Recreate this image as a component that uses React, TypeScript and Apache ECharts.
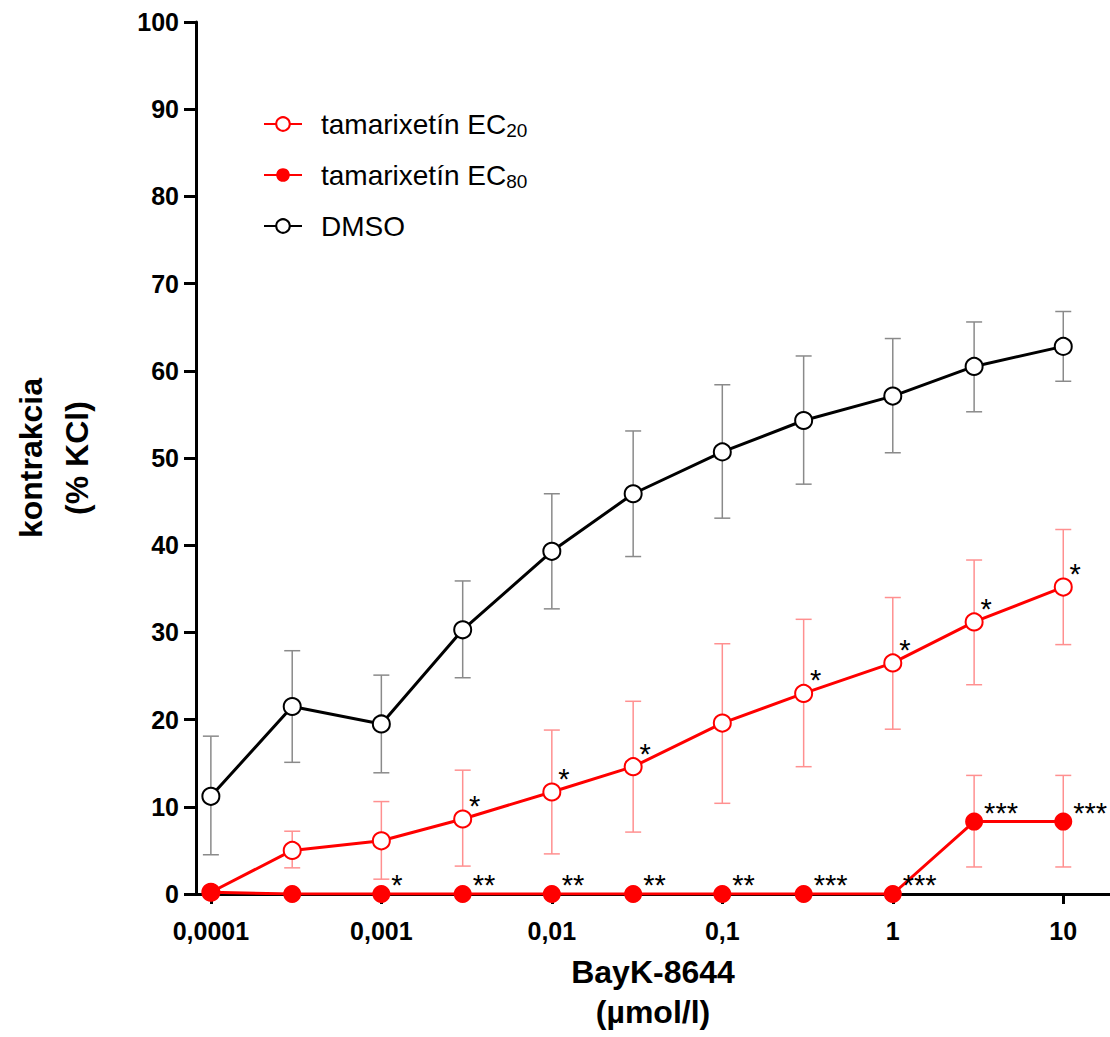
import React, { useEffect, useRef } from "react";
import * as echarts from "echarts";

const concentrations = [0.0001, 0.0003, 0.001, 0.003, 0.01, 0.03, 0.1, 0.3, 1, 3, 10];
const xTickValues = [0.0001, 0.001, 0.01, 0.1, 1, 10];

const dmsoMean = [11.2, 21.5, 19.5, 30.3, 39.3, 45.9, 50.7, 54.3, 57.1, 60.5, 62.8];
const dmsoUpper = [18.1, 27.9, 25.1, 35.9, 45.9, 53.1, 58.4, 61.7, 63.7, 65.6, 66.8];
const dmsoLower = [4.5, 15.1, 13.9, 24.8, 32.7, 38.7, 43.1, 47.0, 50.6, 55.3, 58.8];

const ec20Mean = [0.2, 5.0, 6.1, 8.6, 11.7, 14.6, 19.6, 23.0, 26.5, 31.2, 35.2];
const ec20Upper = [null, 7.2, 10.6, 14.2, 18.8, 22.1, 28.7, 31.5, 34.0, 38.3, 41.8];
const ec20Lower = [null, 3.0, 1.7, 3.2, 4.6, 7.1, 10.4, 14.6, 18.9, 24.0, 28.6];
const ec20Stars = ["", "", "", "*", "*", "*", "", "*", "*", "*", "*"];

const ec80Mean = [0.2, 0, 0, 0, 0, 0, 0, 0, 0, 8.3, 8.3];
const ec80Upper = [null, null, null, null, null, null, null, null, null, 13.6, 13.6];
const ec80Lower = [null, null, null, null, null, null, null, null, null, 3.1, 3.1];
const ec80Stars = ["", "", "*", "**", "**", "**", "**", "***", "***", "***", "***"];

const NAME_EC20 = "tamarixetín EC20";
const NAME_EC80 = "tamarixetín EC80";
const NAME_DMSO = "DMSO";

const FONT = "'Liberation Sans', Arial, Helvetica, sans-serif";
const RED = "#ff0000";

function errorData(upper: (number | null)[], lower: (number | null)[]) {
  const out: number[][] = [];
  concentrations.forEach((c, i) => {
    const u = upper[i];
    const l = lower[i];
    if (u != null && l != null) out.push([c, l, u]);
  });
  return out;
}

function errorSeries(name: string, upper: (number | null)[], lower: (number | null)[], color: string) {
  return {
    type: "custom",
    name,
    z: 1,
    silent: true,
    encode: { x: 0, y: [1, 2] },
    data: errorData(upper, lower),
    renderItem: (params: any, api: any) => {
      const x = api.value(0);
      const lo = api.coord([x, api.value(1)]);
      const hi = api.coord([x, api.value(2)]);
      const w = 8;
      const style = { stroke: color, lineWidth: 1.5 };
      return {
        type: "group",
        children: [
          { type: "line", shape: { x1: hi[0], y1: hi[1], x2: lo[0], y2: lo[1] }, style },
          { type: "line", shape: { x1: hi[0] - w, y1: hi[1], x2: hi[0] + w, y2: hi[1] }, style },
          { type: "line", shape: { x1: lo[0] - w, y1: lo[1], x2: lo[0] + w, y2: lo[1] }, style },
        ],
      };
    },
  };
}

function lineData(means: number[], stars: string[] | null, kind: "ec20" | "ec80" | "none") {
  return concentrations.map((c, i) => {
    const item: any = { value: [c, means[i]] };
    const s = stars ? stars[i] : "";
    if (s) {
      item.label = {
        show: true,
        formatter: s,
        position: "inside",
        align: kind === "ec20" ? "center" : "left",
        verticalAlign: "middle",
        offset: kind === "ec20" ? [12, -13] : [10, -9],
        color: "#000",
        fontSize: 29,
        fontFamily: FONT,
      };
    }
    return item;
  });
}

function formatConc(v: number) {
  const s = v >= 1 ? String(Math.round(v)) : Number(v.toPrecision(3)).toString();
  return s.replace(".", ",");
}

export default function App() {
  const ref = useRef<HTMLDivElement>(null);

  useEffect(() => {
    if (!ref.current) return;
    const chart = echarts.init(ref.current, null, { renderer: "svg" });
    const option: any = {
      animation: false,
      backgroundColor: "#ffffff",
      grid: { left: 190, right: 0, top: 22, bottom: 136, containLabel: false },
      legend: {
        orient: "vertical",
        left: 258,
        top: 105,
        itemWidth: 38,
        itemHeight: 17,
        itemGap: 21,
        data: [NAME_EC20, NAME_EC80, NAME_DMSO],
        textStyle: {
          fontFamily: FONT,
          fontSize: 28,
          color: "#000",
          padding: [0, 0, 0, 14],
          rich: {
            a: { fontFamily: FONT, fontSize: 28, color: "#000", lineHeight: 32 },
            s: { fontFamily: FONT, fontSize: 19, color: "#000", lineHeight: 14, verticalAlign: "bottom" },
          },
        },
        formatter: (name: string) => {
          if (name === NAME_DMSO) return "{a|DMSO}";
          const sub = name === NAME_EC20 ? "20" : "80";
          return "{a|tamarixetín EC}{s|" + sub + "}";
        },
      },
      xAxis: {
        type: "log",
        logBase: 10,
        min: 0.0000818,
        max: 18.8,
        name: "BayK-8644\n(µmol/l)",
        nameLocation: "middle",
        nameGap: 58,
        nameTextStyle: {
          fontFamily: FONT,
          fontSize: 32,
          fontWeight: "bold",
          color: "#000",
          lineHeight: 40,
        },
        axisLine: { show: true, lineStyle: { color: "#000", width: 3 } },
        axisTick: {
          show: true,
          length: 10,
          lineStyle: { color: "#000", width: 3 },
          customValues: xTickValues,
        },
        minorTick: { show: false },
        axisLabel: {
          customValues: xTickValues,
          formatter: (v: number) => formatConc(v),
          fontFamily: FONT,
          fontSize: 25,
          fontWeight: "bold",
          color: "#000",
          margin: 24,
        },
        splitLine: { show: false },
      },
      yAxis: {
        type: "value",
        min: 0,
        max: 100,
        interval: 10,
        name: "kontrakcia\n(% KCl)",
        nameLocation: "middle",
        nameGap: 96,
        nameRotate: 90,
        nameTextStyle: {
          fontFamily: FONT,
          fontSize: 32,
          fontWeight: "bold",
          color: "#000",
          lineHeight: 46,
        },
        axisLine: { show: true, lineStyle: { color: "#000", width: 3 } },
        axisTick: { show: true, length: 12, lineStyle: { color: "#000", width: 3 } },
        axisLabel: {
          fontFamily: FONT,
          fontSize: 25,
          fontWeight: "bold",
          color: "#000",
          margin: 17,
        },
        splitLine: { show: false },
      },
      series: [
        errorSeries("dmsoErr", dmsoUpper, dmsoLower, "#8a8a8a"),
        errorSeries("ec20Err", ec20Upper, ec20Lower, "#ff9090"),
        errorSeries("ec80Err", ec80Upper, ec80Lower, "#ff9090"),
        {
          type: "line",
          name: NAME_DMSO,
          z: 3,
          data: lineData(dmsoMean, null, "none"),
          symbol: "emptyCircle",
          symbolSize: 17,
          showAllSymbol: true,
          lineStyle: { color: "#000", width: 3 },
          itemStyle: { color: "#000", borderColor: "#000", borderWidth: 3 },
        },
        {
          type: "line",
          name: NAME_EC20,
          z: 4,
          data: lineData(ec20Mean, ec20Stars, "ec20"),
          symbol: "emptyCircle",
          symbolSize: 17,
          showAllSymbol: true,
          lineStyle: { color: RED, width: 3 },
          itemStyle: { color: RED, borderColor: RED, borderWidth: 3 },
        },
        {
          type: "line",
          name: NAME_EC80,
          z: 5,
          data: lineData(ec80Mean, ec80Stars, "ec80"),
          symbol: "circle",
          symbolSize: 18,
          showAllSymbol: true,
          lineStyle: { color: RED, width: 3 },
          itemStyle: { color: RED },
        },
      ],
    };
    chart.setOption(option);
    return () => {
      chart.dispose();
    };
  }, []);

  return (
    <div
      ref={ref}
      style={{ position: "absolute", left: 0, top: 0, width: 1110, height: 1037, background: "#fff" }}
    />
  );
}
